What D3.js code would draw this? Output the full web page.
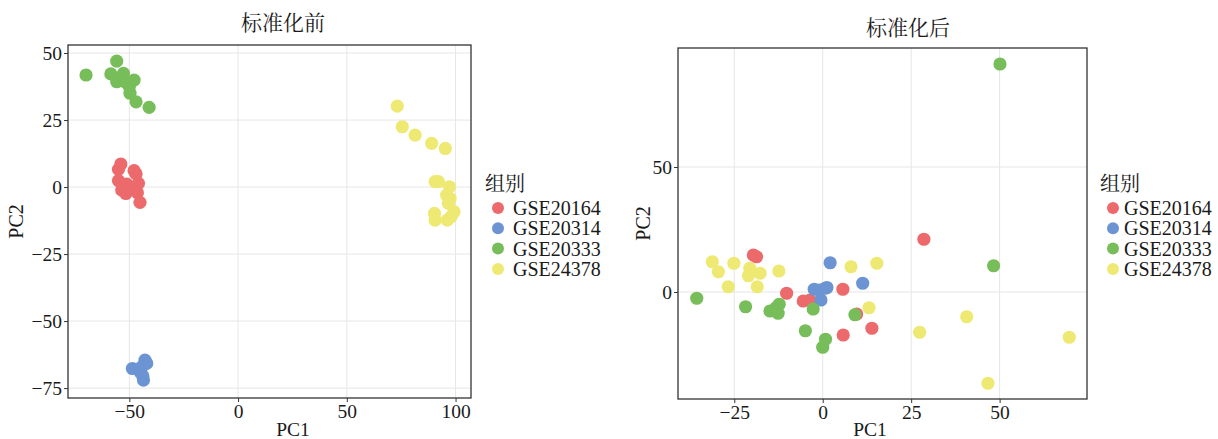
<!DOCTYPE html>
<html>
<head>
<meta charset="utf-8">
<script src="https://cdn.jsdelivr.net/npm/d3@7"></script>
<style>
  body { margin: 0; background: #fff; }
  svg { display: block; }
  text { font-family: "Liberation Serif", "Noto Serif CJK SC", "Noto Sans CJK SC", serif; fill: #1a1a1a; }
</style>
</head>
<body>
<svg id="chart" width="1218" height="439"></svg>
<script>
// ---------- data ----------
const groups = ["GSE20164", "GSE20314", "GSE20333", "GSE24378"];
const groupColors = ["#EC6A6C", "#6C94D2", "#77BE5B", "#EEE972"];
const legendTitle = "组别";
const titles = ["标准化前", "标准化后"];

// Before normalization [PC1, PC2]
const before_GSE20164 = [[-53.9,8.6],[-55.0,6.6],[-47.8,6.1],[-46.9,4.9],[-55.0,2.4],[-51.2,1.1],[-45.8,1.4],
  [-53.5,-1.1],[-51.6,-2.4],[-46.3,-2.1],[-45.1,-5.7],[-49.7,0.1]];
const before_GSE20314 = [[-48.6,-67.7],[-42.8,-64.6],[-42.0,-65.8],[-45.1,-68.9],[-43.5,-72.0],[-44.3,-67.1],[-43.8,-70.5]];
const before_GSE20333 = [[-69.9,41.8],[-55.8,47.0],[-58.5,42.2],[-52.7,42.4],[-55.8,39.3],[-52.0,39.3],[-47.8,39.9],
  [-50.0,37.4],[-49.7,35.0],[-46.9,31.8],[-40.9,29.7],[-54.3,40.7]];
const before_GSE24378 = [[73.2,30.2],[75.5,22.5],[81.4,19.4],[89.0,16.3],[95.3,14.4],[90.6,2.0],[92.1,2.0],[97.2,0.1],
  [95.9,-3.0],[97.5,-4.2],[96.7,-6.1],[99.3,-9.2],[90.3,-9.8],[90.6,-12.3],[96.2,-12.3],[98.0,-11.0]];

// After normalization [PC1, PC2]
const after_GSE20164 = [[-19.6,14.8],[-18.7,14.1],[-10.2,-0.5],[-5.5,-3.6],[-3.6,-3.2],[5.7,1.1],[9.6,-8.8],
  [5.8,-17.2],[13.9,-14.5],[28.6,21.1]];
const after_GSE20314 = [[2.1,11.7],[11.3,3.5],[-2.4,1.1],[0.7,1.5],[1.2,1.8],[-0.5,-3.2],[-1.0,0.8]];
const after_GSE20333 = [[-35.6,-2.5],[-21.8,-5.9],[-14.9,-7.6],[-12.3,-4.9],[-12.6,-8.5],[-13.2,-6.3],[-2.7,-6.8],
  [-4.9,-15.5],[0.8,-18.9],[0.0,-22.1],[9.1,-9.1],[48.3,10.5],[50.1,91.2]];
const after_GSE24378 = [[-31.2,12.1],[-29.5,8.1],[-25.1,11.5],[-26.7,2.1],[-20.6,9.5],[-21.0,6.5],[-17.7,7.5],
  [-18.5,2.1],[-12.4,8.4],[8.0,10.1],[15.3,11.5],[13.1,-6.3],[40.7,-9.9],[27.4,-16.1],[69.7,-18.1],[46.7,-36.5]];

const beforeSeries = [before_GSE20164, before_GSE20314, before_GSE20333, before_GSE24378];
const afterSeries = [after_GSE20164, after_GSE20314, after_GSE20333, after_GSE24378];

const beforeXTicks = [-50, 0, 50, 100];
const beforeYTicks = [50, 25, 0, -25, -50, -75];
const afterXTicks = [-25, 0, 25, 50];
const afterYTicks = [50, 0];

// ---------- drawing ----------
const svg = d3.select("#chart");

function fmt(v) { return v < 0 ? "\u2212" + Math.abs(v) : String(v); }

function panel(cfg) {
  const { x0, x1, y0, y1, xdom, ydom, xticks, yticks, series, title, titleX, titleY,
          xlabX, ylabX, legX, legCircleX, legTextX } = cfg;
  const x = d3.scaleLinear().domain(xdom).range([x0, x1]);
  const y = d3.scaleLinear().domain(ydom).range([y1, y0]);
  const g = svg.append("g");

  g.append("g").selectAll("line").data(xticks).join("line")
    .attr("x1", d => x(d)).attr("x2", d => x(d)).attr("y1", y0).attr("y2", y1)
    .attr("stroke", "#e6e6e6").attr("stroke-width", 1);
  g.append("g").selectAll("line").data(yticks).join("line")
    .attr("y1", d => y(d)).attr("y2", d => y(d)).attr("x1", x0).attr("x2", x1)
    .attr("stroke", "#e6e6e6").attr("stroke-width", 1);

  // axes
  const xAxis = d3.axisBottom(x).tickValues(xticks).tickSize(4).tickPadding(2).tickFormat(fmt);
  const yAxis = d3.axisLeft(y).tickValues(yticks).tickSize(4).tickPadding(2).tickFormat(fmt);
  const gx = g.append("g").attr("transform", `translate(0,${y1})`).call(xAxis);
  const gy = g.append("g").attr("transform", `translate(${x0},0)`).call(yAxis);
  [gx, gy].forEach(a => {
    a.select(".domain").remove();
    a.selectAll(".tick line").attr("stroke", "#333");
    a.selectAll(".tick text").attr("font-size", 19.5).attr("fill", "#1a1a1a")
      .style("font-family", "Liberation Serif");
  });
  gx.selectAll(".tick text").attr("dy", "0.72em");

  // points
  series.forEach((pts, i) => {
    g.append("g").selectAll("circle").data(pts).join("circle")
      .attr("cx", d => x(d[0])).attr("cy", d => y(d[1])).attr("r", 6.6)
      .attr("fill", groupColors[i]);
  });

  // border
  g.append("rect").attr("x", x0).attr("y", y0).attr("width", x1 - x0).attr("height", y1 - y0)
    .attr("fill", "none").attr("stroke", "#333").attr("stroke-width", 1.3);

  // titles
  g.append("text").attr("x", titleX).attr("y", titleY).attr("text-anchor", "middle")
    .attr("font-size", 21).style("font-family", "'Noto Serif CJK SC','Noto Sans CJK SC'").text(title);
  g.append("text").attr("x", xlabX).attr("y", 436).attr("text-anchor", "middle")
    .attr("font-size", 19.5).text("PC1");
  g.append("text").attr("transform", `translate(${ylabX},${(y0 + y1) / 2}) rotate(-90)`)
    .attr("text-anchor", "middle").attr("dominant-baseline", "middle").attr("font-size", 20).text("PC2");

  // legend
  const lg = g.append("g");
  lg.append("text").attr("x", legX).attr("y", 191).attr("font-size", 20)
    .style("font-family", "'Noto Serif CJK SC','Noto Sans CJK SC'").text(legendTitle);
  groups.forEach((name, i) => {
    const cy = 208 + i * 20.3;
    lg.append("circle").attr("cx", legCircleX).attr("cy", cy).attr("r", 6).attr("fill", groupColors[i]);
    lg.append("text").attr("x", legTextX).attr("y", cy).attr("dominant-baseline", "central")
      .attr("font-size", 20).text(name);
  });
}

panel({
  x0: 68, x1: 471, y0: 45, y1: 398,
  xdom: [-78.2, 107.1], ydom: [-78.7, 53.0],
  xticks: beforeXTicks, yticks: beforeYTicks, series: beforeSeries,
  title: titles[0], titleX: 283, titleY: 30,
  xlabX: 293, ylabX: 18,
  legX: 485, legCircleX: 498, legTextX: 513
});

panel({
  x0: 678, x1: 1087, y0: 48, y1: 399,
  xdom: [-40.9, 74.7], ydom: [-42.8, 97.6],
  xticks: afterXTicks, yticks: afterYTicks, series: afterSeries,
  title: titles[1], titleX: 908, titleY: 35,
  xlabX: 870, ylabX: 645,
  legX: 1100, legCircleX: 1113, legTextX: 1124
});
</script>
</body>
</html>
